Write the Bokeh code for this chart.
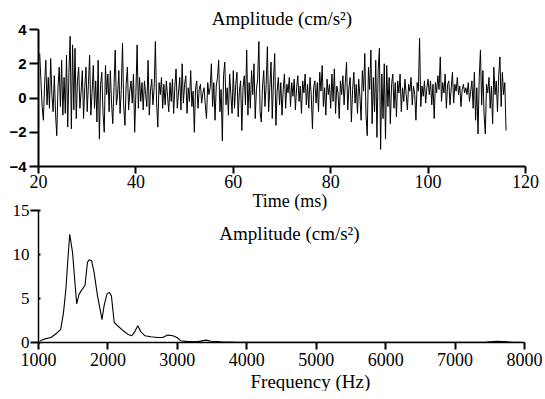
import numpy as np
from bokeh.plotting import figure
from bokeh.models import Range1d, Label, Title, FixedTicker
from bokeh.layouts import column
from bokeh.embed import file_html
from bokeh.resources import INLINE

# ---------------- data ----------------
# Top panel: acceleration time signal, sampled every 0.25 ms from 20.25 ms
t_start = 20.25
dt = 0.25
accel = [
    2.6, 1.0, -0.5, -1.3,
    0.8, 2.2, -0.4, 1.2,
    -0.6, 2.3, 0.2, -0.8,
    1.3, -0.9, -2.2, 0.6,
    1.8, -0.5, 2.2, -1.0,
    1.2, -0.9, 2.5, -1.7,
    1.5, 3.6, -1.8, 3.1,
    -0.7, 2.9, -1.2, 1.0,
    1.8, -0.6, 0.4, 1.6,
    -1.2, 0.6, 1.8, -0.8,
    0.8, 2.5, -1.0, 0.3,
    1.9, -0.6, 1.0, -1.4,
    2.2, -2.4, 0.8, 1.5,
    -0.9, -2.0, 1.9, 0.2,
    1.4, -0.8, 1.6, -0.3,
    -1.5, 0.6, 2.8, -0.4,
    0.2, 1.6, -0.9, 0.5,
    3.2, -0.5, -1.6, 0.8,
    1.8, -0.7, 0.4, 1.0,
    -0.3, 1.4, -2.0, 0.3,
    3.1, -0.6, 1.2, -0.2,
    0.9, -0.7, 1.0, 0.2,
    -0.5, 2.2, -1.0, 0.4,
    1.1, -0.4, 0.6, 3.3,
    -0.3, -1.7, 0.9, 0.2,
    1.2, -0.6, 0.8, -0.4,
    1.0, 0.1, -0.8, 0.9,
    -0.2, 1.1, -0.9, 0.7,
    1.7, -0.6, 0.3, 1.2,
    -0.7, 2.0, -0.3, 0.8,
    1.3, -0.9, 0.6, -0.2,
    1.6, -0.5, 0.4, -2.0,
    0.6, 1.0, -0.6, 0.5,
    0.8, -0.3, 0.3, 0.6,
    -0.4, -1.2, 0.9, 0.2,
    0.6, 2.0, -0.5, 0.9,
    -1.3, 0.7, 1.2, 2.2,
    -0.8, 0.5, -2.5, 1.3,
    2.1, -0.4, 0.6, -1.0,
    1.4, 0.2, -0.9, 1.6,
    -0.6, 0.8, 1.5, -1.1,
    0.4, 1.0, -1.9, 0.6,
    1.3, -0.4, 2.8, -1.0,
    0.9, -0.6, 1.6, 0.2,
    2.0, -1.2, 0.5, 1.1,
    3.3, -0.8, -1.4, 0.7,
    1.6, -0.5, 0.8, 3.0,
    -0.8, 0.6, 2.1, -1.2,
    1.0, 2.6, -1.6, 0.4,
    1.2, -0.4, 0.9, -1.0,
    0.5, 1.4, -0.6, 0.8,
    0.3, 1.2, -0.5, 0.9,
    0.1, 1.1, -0.7, 0.6,
    1.3, -0.2, 0.7, -0.9,
    1.0, 0.3, 1.4, -0.4,
    0.8, -0.6, 1.2, 0.2,
    -1.8, 0.6, 1.0, -0.3,
    0.9, -0.8, 1.5, 0.4,
    1.9, -0.5, 0.6, -1.0,
    1.1, 0.2, 0.8, -0.6,
    1.4, -0.2, 1.7, -0.9,
    0.7, 0.3, -1.2, 1.0,
    0.2, 1.3, -0.4, 0.9,
    2.1, -0.7, 0.6, 1.2,
    -1.4, 0.5, 1.5, -0.3,
    0.8, -0.9, 1.1, 0.1,
    -1.3, 1.6, 0.4, 2.6,
    -1.0, -2.2, 1.8, 0.5,
    2.8, -1.5, 1.2, -0.8,
    2.2, -2.3, 1.6, 2.9,
    -3.0, 1.4, -1.2, 2.0,
    -2.4, 1.9, -0.5, 1.2,
    -1.5, 0.8, 1.4, -0.6,
    0.9, -1.1, 1.0, 0.3,
    1.4, -0.8, 0.6, -0.2,
    1.1, 0.2, -0.7, 0.8,
    0.4, 1.2, -0.4, 0.7,
    0.2, -1.3, 0.9, 0.4,
    3.5, -0.5, 0.7, 0.1,
    1.0, -0.3, 0.6, 1.1,
    0.2, 1.0, -0.4, 0.8,
    -1.2, 0.9, 0.3, 1.3,
    0.5, 2.4, -0.2, 0.9,
    0.3, 1.4, -0.6, 0.8,
    1.0, -0.4, 0.6, 1.5,
    -0.3, 0.8, 0.4, 1.2,
    0.2, 0.7, -0.5, 0.5,
    0.8, 0.3, 0.6, 0.2,
    0.9, -0.2, 0.4, 1.0,
    -0.6, 1.5, -1.3, 0.6,
    -2.1, 1.2, 2.8, -0.4,
    1.6, -1.0, -2.1, 0.8,
    0.3, 1.2, -0.6, 0.7,
    -1.5, 1.8, 0.2, 1.0,
    -0.8, 1.3, 2.4, -0.5,
    1.5, 0.2, 0.9, -1.9,
]
time_ms = t_start + dt * np.arange(len(accel))

# Bottom panel: amplitude spectrum
freq_hz = [1025, 1080, 1180, 1275, 1320, 1360, 1395, 1420, 1450, 1490, 1525,
           1550, 1585, 1635, 1670, 1705, 1730, 1765, 1800, 1850, 1915, 1945,
           1985, 2020, 2050, 2090, 2140, 2225, 2285, 2340, 2380, 2430, 2475,
           2535, 2620, 2715, 2790, 2860, 2935, 2995, 3050, 3150, 3295, 3415,
           3485, 3630, 3820, 4200, 5000, 6000, 7000, 7450, 7600, 7700, 7800,
           7950]
spec_amp = [0.2, 0.38, 0.57, 1.14, 1.5, 3.4, 6.1, 9.1, 12.3, 10.25, 6.8,
            4.4, 5.5, 6.1, 6.5, 9.1, 9.4, 9.3, 8.0, 5.3, 2.6, 4.2,
            5.5, 5.7, 5.3, 2.3, 1.9, 1.3, 0.95, 0.76, 1.14, 1.9, 1.2,
            0.76, 0.65, 0.57, 0.57, 0.84, 0.76, 0.57, 0.19, 0.1, 0.1, 0.27,
            0.15, 0.07, 0.04, 0.02, 0.02, 0.02, 0.03, 0.05, 0.15, 0.12, 0.05,
            0.03]

time_ticks = [20, 40, 60, 80, 100, 120]
amp_ticks = [-4, -2, 0, 2, 4]
freq_ticks = [1000, 2000, 3000, 4000, 5000, 6000, 7000, 8000]
spec_ticks = [0, 5, 10, 15]
spec_long_ticks = [0, 15]

SERIF = "Liberation Serif"
SANS = "Liberation Sans"


def style(p, axis_w):
    p.grid.visible = False
    p.outline_line_color = None
    p.background_fill_color = "white"
    for ax in (p.xaxis[0], p.yaxis[0]):
        ax.axis_line_color = "black"
        ax.axis_line_width = axis_w
        ax.major_tick_line_color = "black"
        ax.major_tick_line_width = 2
        ax.major_tick_in = 0
        ax.minor_tick_line_color = None
        ax.major_label_text_color = "black"


# ---------------- top panel ----------------
p1 = figure(frame_width=487, frame_height=137,
            x_range=Range1d(20, 120), y_range=Range1d(-4, 4),
            output_backend="svg", toolbar_location=None,
            min_border_left=36, min_border_right=22,
            min_border_top=29, min_border_bottom=30,
            title="Amplitude (cm/s²)")
style(p1, 2)
p1.border_fill_color = "white"
p1.title.text_font = SERIF
p1.title.text_font_size = "19px"
p1.title.text_font_style = "normal"
p1.title.text_color = "black"
p1.title.align = "center"
p1.title.standoff = 2
p1.line(time_ms, accel, line_color="black", line_width=1.0)
p1.xaxis.ticker = time_ticks
p1.yaxis.ticker = amp_ticks
p1.xaxis.major_tick_out = 7
p1.xaxis.major_label_standoff = 1
p1.xaxis.major_label_text_font = SERIF
p1.xaxis.major_label_text_font_size = "18px"
p1.yaxis.major_tick_out = 9
p1.yaxis.major_label_standoff = 3
p1.yaxis.major_label_text_font = SANS
p1.yaxis.major_label_text_font_style = "bold"
p1.yaxis.major_label_text_font_size = "15px"

# ---------------- bottom panel ----------------
p2 = figure(frame_width=486, frame_height=132,
            x_range=Range1d(1000, 8000), y_range=Range1d(0, 15),
            output_backend="svg", toolbar_location=None,
            min_border_left=38, min_border_right=21,
            min_border_top=24, min_border_bottom=0)
style(p2, 1.5)
p2.border_fill_color = None
p2.styles = {"margin-top": "-10px"}
p2.line(freq_hz, spec_amp, line_color="black", line_width=1.1)
p2.xaxis.ticker = freq_ticks
p2.yaxis.ticker = FixedTicker(ticks=spec_ticks, minor_ticks=spec_long_ticks)
p2.yaxis.major_tick_out = 0
p2.yaxis.major_tick_in = 2
p2.yaxis.minor_tick_line_color = "black"
p2.yaxis.minor_tick_line_width = 2
p2.yaxis.minor_tick_out = 8
p2.yaxis.minor_tick_in = 0
p2.xaxis.major_tick_out = 7
p2.xaxis.major_label_standoff = 3
p2.xaxis.major_label_text_font = SERIF
p2.xaxis.major_label_text_font_size = "18px"
p2.yaxis.major_label_standoff = 1
p2.yaxis.major_label_text_font = SERIF
p2.yaxis.major_label_text_font_size = "17px"

p2.add_layout(Title(text="Time (ms)", align="left", offset=214, standoff=0,
                    text_font=SERIF, text_font_size="18px",
                    text_font_style="normal", text_color="black"), "above")
p2.add_layout(Title(text="Frequency (Hz)", align="left", offset=212, standoff=0,
                    text_font=SERIF, text_font_size="19px",
                    text_font_style="normal", text_color="black"), "below")
p2.add_layout(Label(x=4615, y=12.39, text="Amplitude (cm/s²)",
                    text_font=SERIF, text_font_size="19px",
                    text_align="center", text_baseline="alphabetic",
                    text_color="black"))

layout = column(p1, p2, spacing=0)
open("out.html", "w").write(file_html(layout, INLINE))
